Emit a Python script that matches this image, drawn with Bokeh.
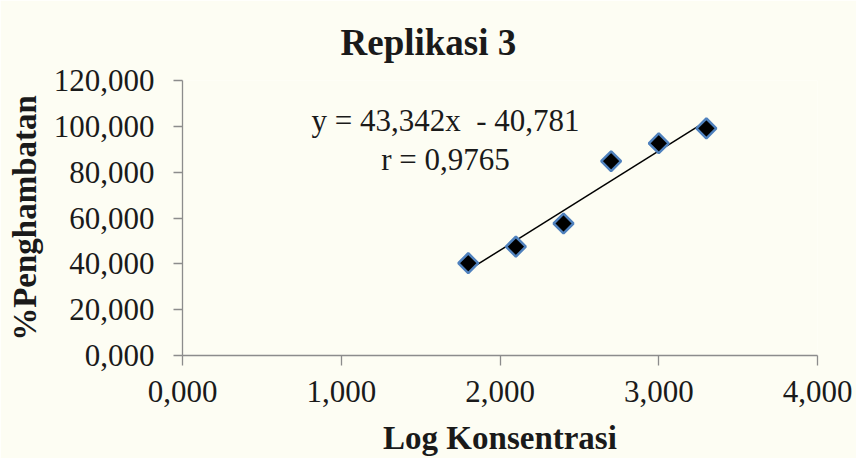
import numpy as np
from bokeh.plotting import figure
from bokeh.models import Label, Range1d, FixedTicker, CustomJSTickFormatter, Title
from bokeh.embed import file_html
from bokeh.resources import INLINE

# Data
log_konsentrasi = [1.80, 2.10, 2.40, 2.70, 3.00, 3.30]
penghambatan = [40.3, 47.5, 57.6, 84.8, 92.6, 99.1]
slope = 43.342
intercept = -40.781
r_value = "0,9765"
x_ticks = [0, 1, 2, 3, 4]
y_ticks = [0, 20, 40, 60, 80, 100, 120]
title_text = "Replikasi 3"
x_label = "Log Konsentrasi"
y_label = "%Penghambatan"

SERIF = "Liberation Serif"
BG = "#fdfdf3"

p = figure(width=856, height=458, output_backend="svg", toolbar_location=None,
           x_range=Range1d(0, 4), y_range=Range1d(0, 120),
           min_border_left=182, min_border_right=39, min_border_top=80, min_border_bottom=100)
p.background_fill_color = BG
p.border_fill_color = BG
p.outline_line_color = None
p.grid.grid_line_color = None

fmt = CustomJSTickFormatter(code="""
return tick.toFixed(3).replace('.', ',');
""")

for ax in (p.xaxis[0], p.yaxis[0]):
    ax.formatter = fmt
    ax.axis_line_color = "#8c8c8c"
    ax.axis_line_width = 1.3
    ax.major_tick_line_color = "#8c8c8c"
    ax.major_tick_line_width = 1.3
    ax.major_tick_in = 0
    ax.minor_tick_line_color = None
    ax.major_label_text_font = SERIF
    ax.major_label_text_font_size = "31px"
    ax.major_label_text_color = "#1a1a1a"
    ax.axis_label_text_font = SERIF
    ax.axis_label_text_font_size = "33px"
    ax.axis_label_text_font_style = "bold"
    ax.axis_label_text_color = "#1a1a1a"

p.xaxis[0].ticker = FixedTicker(ticks=x_ticks)
p.yaxis[0].ticker = FixedTicker(ticks=y_ticks)
p.xaxis[0].axis_label = x_label
p.yaxis[0].axis_label = y_label
p.xaxis[0].major_tick_out = 10
p.yaxis[0].major_tick_out = 9
p.xaxis[0].major_label_standoff = 15
p.yaxis[0].major_label_standoff = 19
p.xaxis[0].axis_label_standoff = 15
p.yaxis[0].axis_label_standoff = 8

# Trendline
xl = np.array([min(log_konsentrasi), max(log_konsentrasi)])
p.line(xl, slope * xl + intercept, line_color="black", line_width=1.5)

# Points
p.scatter(log_konsentrasi, penghambatan, marker="square", angle=np.pi / 4, size=14,
          fill_color="black", line_color="#4f81bd", line_width=2.5)

# Equation
eq1 = "y = " + f"{slope:.3f}".replace(".", ",") + "x \u00a0- " + f"{-intercept:.3f}".replace(".", ",")
p.add_layout(Label(x=1.657, y=102.6, text=eq1, text_align="center", text_baseline="middle",
                   text_font=SERIF, text_font_size="31px", text_color="#1a1a1a"))
p.add_layout(Label(x=1.657, y=85.5, text="r = " + r_value, text_align="center", text_baseline="middle",
                   text_font=SERIF, text_font_size="31px", text_color="#1a1a1a"))

# Title
p.add_layout(Title(text=title_text, align="left", offset=158, standoff=35,
                   text_font=SERIF, text_font_size="37px", text_font_style="bold",
                   text_color="#1a1a1a"), "above")

html = file_html(p, INLINE)
html = html.replace("<body>", '<body style="margin:0;background:#fdfdf3;">', 1)
open("out.html", "w").write(html)
